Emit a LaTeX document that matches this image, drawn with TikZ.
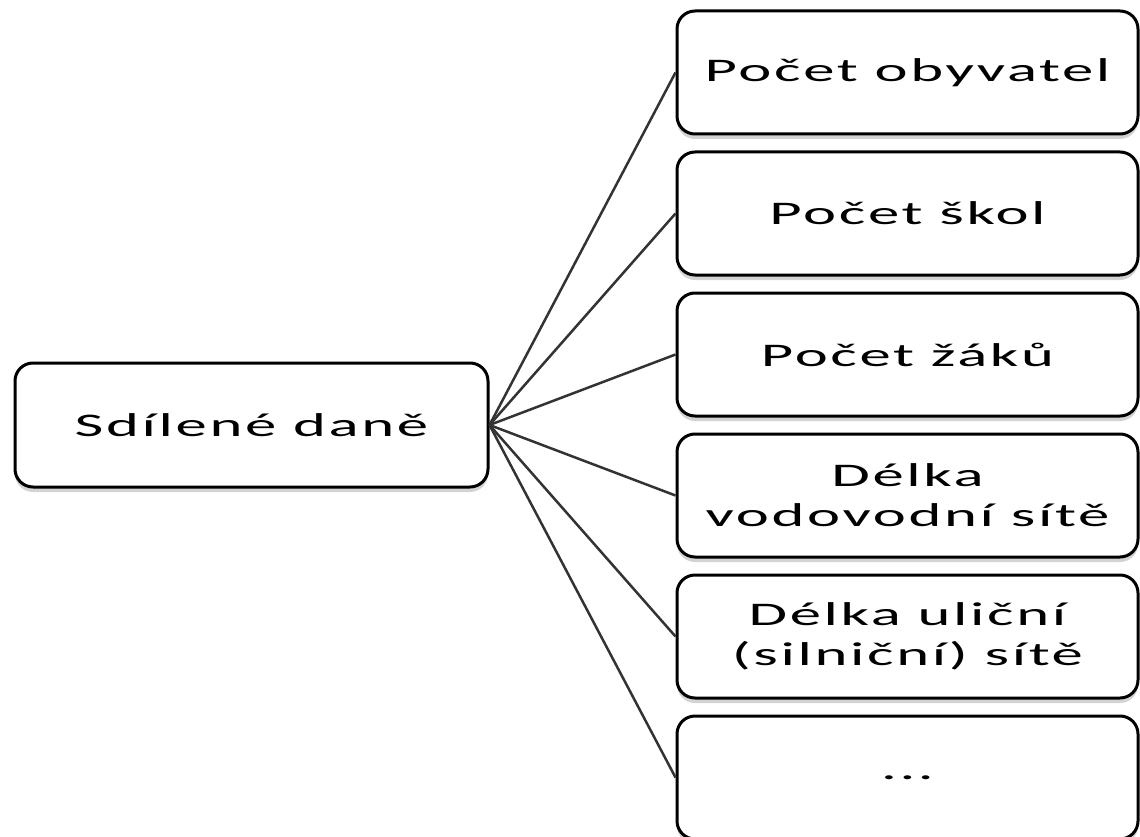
\documentclass[tikz,border=0pt]{standalone}
\usepackage{fontspec}
\setmainfont[FakeStretch=1.9,LetterSpace=8]{Carlito}
\usetikzlibrary{shadows}
\begin{document}
\begin{tikzpicture}[x=1pt,y=-1pt,
  box/.style={draw=black, line width=3pt, rounded corners=18pt, fill=white, align=center, inner sep=0pt,
    font=\fontsize{33}{40}\selectfont,
    drop shadow={shadow xshift=0pt, shadow yshift=-5pt, opacity=0.35, fill=gray}},
  lbox/.style={box, minimum width=473pt, minimum height=124pt},
  rbox/.style={box, minimum width=461pt, minimum height=123pt},
  link/.style={draw=black!80, line width=2.5pt}]
\useasboundingbox (0,0) rectangle (1140,837);
\node[lbox] (L) at (251.5,425) {Sdílené daně};
\node[rbox] (r1) at (907.5,72.5) {Počet obyvatel};
\node[rbox] (r2) at (907.5,213.5) {Počet škol};
\node[rbox] (r3) at (907.5,354.5) {Počet žáků};
\node[rbox] (r4) at (907.5,495.5) {Délka\\vodovodní sítě};
\node[rbox] (r5) at (907.5,636.5) {Délka uliční\\(silniční) sítě};
\node[rbox] (r6) at (907.5,777.5) {...};
\foreach \i in {1,...,6} {\draw[link] (L.east) -- (r\i.west);}
\end{tikzpicture}
\end{document}
